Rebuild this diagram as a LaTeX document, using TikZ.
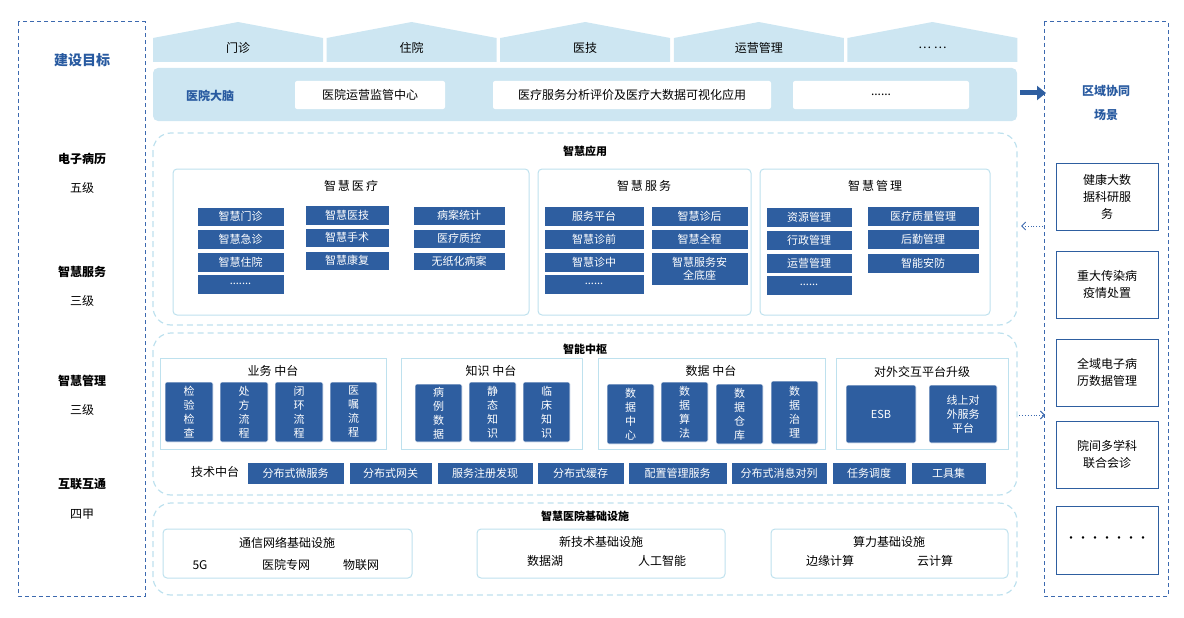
\documentclass[tikz,border=0pt]{standalone}
\usepackage{fontspec}
\setmainfont{Noto Sans CJK SC}
\usetikzlibrary{arrows.meta}
\definecolor{db}{RGB}{46,94,160}
\definecolor{lb}{RGB}{205,230,242}
\definecolor{bd}{RGB}{60,105,175}
\definecolor{ld}{RGB}{190,225,238}
\definecolor{tb}{RGB}{40,90,160}
\tikzset{
 bx/.style={fill=db,draw=white,line width=0.6pt,text=white,font=\fontsize{11}{13}\selectfont,inner sep=0pt,align=center},
 vb/.style={fill=db,draw=white,line width=0.6pt,rounded corners=2pt,text=white,font=\fontsize{11}{14}\selectfont,inner sep=0pt,align=center},
 grp/.style={draw=ld,line width=1pt,rounded corners=4pt,fill=white},
 dz/.style={draw=ld,line width=1.2pt,dashed,dash pattern=on 6pt off 4pt,rounded corners=18pt},
 outer/.style={draw=bd,line width=1pt,dash pattern=on 4pt off 3pt},
 side/.style={draw=db,line width=1pt,fill=white,font=\fontsize{12}{17}\selectfont,align=center,inner sep=0pt},
 t/.style={font=\fontsize{12}{14}\selectfont,inner sep=0pt},
 tb/.style={font=\bfseries\fontsize{12}{14}\selectfont,inner sep=0pt},
}
% name style x1 y1 x2 y2 text
\newcommand\bb[7]{\node[#2,minimum width=#5pt-#3pt,minimum height=#6pt-#4pt] (#1) at ({(#3+#5)/2},{(#4+#6)/2}) {#7};}
\begin{document}
\begin{tikzpicture}[x=1pt,y=-1pt]
\useasboundingbox (0,0) rectangle (1184,618);
% left column
\draw[outer] (18,22) rectangle (145,596);
\node[tb,text=tb,font=\bfseries\fontsize{14}{16}\selectfont] (goal) at (82,60) {建设目标};
\node[tb] (l1) at (82,159) {电子病历}; \node[t] (l1b) at (82,188) {五级};
\node[tb] (l2) at (82,272) {智慧服务}; \node[t] (l2b) at (82,301) {三级};
\node[tb] (l3) at (82,381) {智慧管理}; \node[t] (l3b) at (82,410) {三级};
\node[tb] (l4) at (82,484) {互联互通}; \node[t] (l4b) at (82,514) {四甲};
% right column
\draw[outer] (1044,22) rectangle (1168,596);
\node[tb,text=tb,align=center,font=\bfseries\fontsize{12}{24}\selectfont] (reg) at (1106,103) {区域协同\\场景};
\bb{r1}{side}{1056}{163}{1158}{230}{健康大数\\据科研服\\务}
\bb{r2}{side}{1056}{251}{1158}{318}{重大传染病\\疫情处置}
\bb{r3}{side}{1056}{339}{1158}{406}{全域电子病\\历数据管理}
\bb{r4}{side}{1056}{421}{1158}{488}{院间多学科\\联合会诊}
\bb{r5}{side}{1056}{506}{1158}{574}{·······}
% top houses
\foreach \i/\txt in {0/门诊,1/住院,2/医技,3/运营管理,4/… …}{
 \pgfmathsetmacro\xa{153+\i*173.6}
 \pgfmathsetmacro\xb{\xa+170}
 \pgfmathsetmacro\xm{\xa+85}
 \fill[lb] (\xa,62) -- (\xa,38) -- (\xm,22) -- (\xb,38) -- (\xb,62) -- cycle;
 \node[t] (h\i) at (\xm,48) {\txt};
}
% hospital brain
\fill[lb,rounded corners=5pt] (153,68) rectangle (1017,121);
\node[tb,text=tb] (brain) at (210,96) {医院大脑};
\bb{b1}{fill=white,rounded corners=2pt,t}{295}{81}{445}{109}{医院运营监管中心}
\bb{b2}{fill=white,rounded corners=2pt,t}{493}{81}{771}{109}{医疗服务分析评价及医疗大数据可视化应用}
\bb{b3}{fill=white,rounded corners=2pt,t}{793}{81}{969}{109}{......}
\coordinate (ar1) at (1020,93); \coordinate (ar2) at (1046,93);
\draw[db,line width=5pt,-{Triangle[length=9pt,width=14pt]}] (ar1) -- (ar2);
% smart application
\draw[dz] (153,133) rectangle (1017,325);
\node[tb,font=\bfseries\fontsize{11}{13}\selectfont] (app) at (585,151) {智慧应用};
\draw[grp] (173,169) rectangle (529,315); \node[t] (g1) at (351,186) {智\,慧\,医\,疗};
\draw[grp] (538,169) rectangle (751,315); \node[t] (g2) at (644,186) {智\,慧\,服\,务};
\draw[grp] (760,169) rectangle (990,315); \node[t] (g3) at (875,186) {智\,慧\,管\,理};
\bb{a1}{bx}{197}{207}{284}{226}{智慧门诊}
\bb{a2}{bx}{197}{229}{284}{249}{智慧急诊}
\bb{a3}{bx}{197}{252}{284}{272}{智慧住院}
\bb{a4}{bx}{197}{274}{284}{294}{.......}
\bb{a5}{bx}{305}{205}{389}{225}{智慧医技}
\bb{a6}{bx}{305}{228}{389}{247}{智慧手术}
\bb{a7}{bx}{305}{251}{389}{270}{智慧康复}
\bb{a8}{bx}{413}{206}{505}{225}{病案统计}
\bb{a9}{bx}{413}{229}{505}{248}{医疗质控}
\bb{a10}{bx}{413}{252}{505}{270}{无纸化病案}
\bb{s1}{bx}{544}{206}{644}{226}{服务平台}
\bb{s2}{bx}{544}{229}{644}{249}{智慧诊前}
\bb{s3}{bx}{544}{252}{644}{272}{智慧诊中}
\bb{s4}{bx}{544}{274}{644}{294}{......}
\bb{s5}{bx}{651}{206}{748}{226}{智慧诊后}
\bb{s6}{bx}{651}{229}{748}{249}{智慧全程}
\bb{s7}{bx}{651}{252}{748}{285}{智慧服务安\\全底座}
\bb{m1}{bx}{766}{207}{852}{227}{资源管理}
\bb{m2}{bx}{766}{230}{852}{250}{行政管理}
\bb{m3}{bx}{766}{253}{852}{273}{运营管理}
\bb{m4}{bx}{766}{275}{852}{295}{......}
\bb{m5}{bx}{867}{206}{979}{226}{医疗质量管理}
\bb{m6}{bx}{867}{229}{979}{249}{后勤管理}
\bb{m7}{bx}{867}{253}{979}{273}{智能安防}
% hub
\draw[dz] (153,333) rectangle (1017,495);
\node[tb,font=\bfseries\fontsize{11}{13}\selectfont] (hub) at (585,349) {智能中枢};
\draw[grp,rounded corners=0pt] (160,358) rectangle (386,449); \node[t] (c1) at (273,371) {业务 中台};
\draw[grp,rounded corners=0pt] (401,358) rectangle (582,449); \node[t] (c2) at (491,371) {知识 中台};
\draw[grp,rounded corners=0pt] (598,358) rectangle (825,449); \node[t] (c3) at (711,371) {数据 中台};
\draw[grp,rounded corners=0pt] (836,358) rectangle (1008,449); \node[t] (c4) at (922,372) {对外交互平台升级};
\bb{v1}{vb}{165}{382}{213}{442}{检\\验\\检\\查}
\bb{v2}{vb}{220}{382}{268}{442}{处\\方\\流\\程}
\bb{v3}{vb}{275}{382}{323}{442}{闭\\环\\流\\程}
\bb{v4}{vb}{330}{382}{377}{442}{医\\嘱\\流\\程}
\bb{k1}{vb}{415}{384}{462}{442}{病\\例\\数\\据}
\bb{k2}{vb}{469}{382}{516}{442}{静\\态\\知\\识}
\bb{k3}{vb}{523}{382}{570}{442}{临\\床\\知\\识}
\bb{d1}{vb}{607}{384}{654}{444}{数\\据\\中\\心}
\bb{d2}{vb}{661}{382}{708}{442}{数\\据\\算\\法}
\bb{d3}{vb}{716}{384}{763}{444}{数\\据\\仓\\库}
\bb{d4}{vb}{771}{381}{818}{444}{数\\据\\治\\理}
\bb{e1}{vb}{846}{385}{916}{443}{ESB}
\bb{e2}{vb}{929}{385}{997}{443}{线上对\\外服务\\平台}
\node[t] (tech) at (215,472) {技术中台};
\bb{t1}{bx}{247}{462}{344}{484}{分布式微服务}
\bb{t2}{bx}{349}{462}{432}{484}{分布式网关}
\bb{t3}{bx}{437}{462}{533}{484}{服务注册发现}
\bb{t4}{bx}{537}{462}{624}{484}{分布式缓存}
\bb{t5}{bx}{628}{462}{727}{484}{配置管理服务}
\bb{t6}{bx}{731}{462}{827}{484}{分布式消息对列}
\bb{t7}{bx}{832}{462}{906}{484}{任务调度}
\bb{t8}{bx}{911}{462}{986}{484}{工具集}
% infrastructure
\draw[dz] (153,503) rectangle (1017,595);
\node[tb,font=\bfseries\fontsize{11}{13}\selectfont] (inf) at (585,516) {智慧医院基础设施};
\draw[grp] (163,529) rectangle (412,578); \node[t] (f1) at (287,543) {通信网络基础设施};
\node[t] (f1a) at (200,565) {5G}; \node[t] (f1b) at (286,565) {医院专网}; \node[t] (f1c) at (361,565) {物联网};
\draw[grp] (477,529) rectangle (725,578); \node[t] (f2) at (601,542) {新技术基础设施};
\node[t] (f2a) at (545,561) {数据湖}; \node[t] (f2b) at (662,561) {人工智能};
\draw[grp] (771,529) rectangle (1008,578); \node[t] (f3) at (889,542) {算力基础设施};
\node[t] (f3a) at (830,561) {边缘计算}; \node[t] (f3b) at (935,561) {云计算};
% dotted arrows
\coordinate (p1) at (1043,226); \coordinate (p2) at (1021,226);
\draw[bd,line width=0.9pt,dotted,-{Straight Barb[length=4pt]}] (p1) -- (p2);
\coordinate (p3) at (1019,415); \coordinate (p4) at (1045,415);
\draw[bd,line width=0.9pt,dotted,-{Straight Barb[length=4pt]}] (p3) -- (p4);
\end{tikzpicture}
\end{document}
